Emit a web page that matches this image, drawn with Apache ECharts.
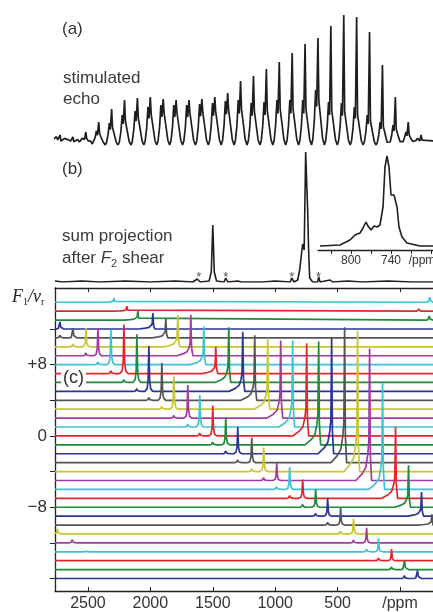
<!DOCTYPE html>
<html>
<head>
<meta charset="utf-8">
<script src="https://cdn.jsdelivr.net/npm/echarts@6.0.0/dist/echarts.min.js"></script>
<style>
html, body { margin: 0; padding: 0; background: #fff; }
#main { width: 433px; height: 612px; }
</style>
</head>
<body>
<div id="main"></div>
<script>
// (a) stimulated echo train: one entry per rotor echo (height above the valleys)
var echoMain  = [10, 8, 13, 23, 36, 45, 47, 48, 46, 45, 45, 46, 48, 52, 64, 69, 76, 83, 92, 101, 107, 119, 130, 128, 113, 80, 48, 23, 10];
var echoSide  = [5, 4, 8, 14, 22, 30, 34, 38, 40, 40, 40, 41, 42, 44, 45, 42, 43, 45, 45, 45, 55, 43, 42, 38, 30, 23, 20, 13, 6];
var echoFloor = [6, 5, 3, 1, 0, 0, 0, 0, 0, 0, 0, 0, 0, 0, 0, 0, 0, 0, 0, 0, 0, 0, 0, 0, 0, 0, 1, 2, 4, 4];

// (b) sum projection after F2 shear
var projPpm    = [2764, 2700, 2550, 2400, 2200, 2000, 1800, 1660, 1625, 1600, 1530, 1512, 1500, 1488, 1470, 1410, 1396, 1380, 1300, 1290, 1270, 1100, 1000, 880, 868, 850, 820, 804, 788, 780, 768, 756, 748, 740, 732, 724, 700, 660, 652, 640, 560, 540, 420, 300, 100, -100, -264];
var projHeight = [1, 0, 1, 0, 1, 0, 1, 0, 3, 0, 1, 10, 57, 10, 1, 0, 4, 0, 1, 2, 0, 0, 1, 0, 4, 0, 2, 12, 30, 38, 32, 130, 100, 72, 30, 4, 0, 0, 5, 0, 2, 0, 1, 0, 1, 0, 0];
var starPpm = [1612, 1396, 868, 652];

// (b) inset: expanded centreband
var insetPpm    = [846.5, 816.5, 801.5, 794, 786.5, 782, 777.5, 774.5, 770, 765.5, 761, 756.5, 752, 749, 746, 743, 740, 735.5, 731, 728, 723.5, 716, 696.5, 677];
var insetHeight = [0, 1, 6, 11, 13, 18, 24, 20, 16, 20, 19, 21, 39, 79, 90, 79, 51, 51, 39, 19, 9, 3, 0, 0];
var insetTicks  = [830, 800, 770, 740, 710, 680];

// (c) sheared 2D slices, one row per F1 / nu_r step
var rows = [15, 14, 13, 12, 11, 10, 9, 8, 7, 6, 5, 4, 3, 2, 1, 0, -1, -2, -3, -4, -5, -6, -7, -8, -9, -10, -11, -12, -13, -14, -15, -16];
var siteAPos = [null, null, null, 2724, 2620, 2516, 2420, 2316, 2212, 2108, 2012, 1908, 1812, 1700, 1604, 1500, 1396, 1300, 1188, 1092, 988, 884, 780, 676, 580, 476, 372, 268, 172, 68, -36, -140];
var siteAHeight = [0, 0, 0, 0.8, 1.1, 2.1, 3.1, 3.9, 5.5, 5.4, 5.1, 4.2, 3.7, 3.7, 3.6, 3.4, 3.0, 3.0, 2.8, 2.7, 2.0, 2.5, 2.1, 2.0, 2.0, 1.9, 1.7, 1.7, 1.5, 1.3, 1.0, 0.9];
var siteBPos = [2292, 2188, 2100, 1980, 1876, 1780, 1676, 1572, 1476, 1372, 1260, 1164, 1060, 956, 860, 748, 652, 548, 444, 340, 244, 140, 36, -68, -172, -255, null, null, null, null, null, null];
var siteBHeight = [0.45, 0.55, 1.1, 1.8, 2.2, 3.6, 4.6, 4.3, 3.0, 6.2, 6.7, 7.3, 8.0, 8.7, 9.7, 10.4, 11.6, 13.0, 15.2, 15.8, 14.8, 11.9, 8.0, 4.7, 2.7, 1.2, 0, 0, 0, 0, 0, 0];
var satelliteHeight = 0.3;
var extraRow    = [15, 14, 13, -11, -12, -13];
var extraPos    = [-240, -150, -235, 2745, 2625, 2520];
var extraHeight = [0.55, 0.25, 0.45, 0.6, 0.35, 0.15];
var ppmTicks = [2500, 2000, 1500, 1000, 500, 0];
var rowTicks = [-16, -12, -8, -4, 0, 4, 8, 12];
var rowLabels = [-8, 0, 8];

// line shapes
var peakOff = [32, 14, 6, 0, -6, -14, -32];
var peakLev = [0, 0.06, 0.25, 1, 0.25, 0.06, 0];
var bandOff = [110, 60, 30, 14, 6, 0, -6, -16];
var bandLev = [0, 0.05, 0.1, 0.2, 0.3, 1, 0.2, 0];
var rowColors = ['#3fc2d2', '#e3262b', '#1f8a3b', '#2b3596', '#555555', '#c9c533', '#a43ba3'];

var PPM_MIN = -264, PPM_MAX = 2764;
var FONT = "'Liberation Sans', Arial, sans-serif";
var SERIF = "'Liberation Serif', 'Times New Roman', serif";

function echoTrace() {
    var pts = [];
    for (var i = 0; i < echoMain.length; i++) {
        var f = echoFloor[i], s = echoSide[i], m = echoMain[i];
        pts.push([i - 0.5, f]);
        pts.push([i - 0.4, f + 0.1 * s]);
        pts.push([i - 0.28, f + 0.45 * s]);
        pts.push([i - 0.18, s]);
        pts.push([i - 0.1, 0.7 * s]);
        pts.push([i, m]);
        pts.push([i + 0.07, 0.8 * s]);
        pts.push([i + 0.2, 0.5 * s]);
        pts.push([i + 0.36, f + 0.12 * s]);
    }
    pts.push([echoMain.length - 0.5, echoFloor[echoMain.length]]);
    pts.push([echoMain.length, echoFloor[echoMain.length]]);
    return pts;
}

function zip(xs, ys) {
    return xs.map(function (x, i) { return [x, ys[i]]; });
}

function rowTrace(j) {
    var row = rows[j];
    var pts = [[PPM_MAX, row], [PPM_MIN, row]];
    function addPeak(pos, h, off, lev) {
        for (var n = 0; n < off.length; n++) pts.push([pos + off[n], row + h * lev[n]]);
    }
    if (siteAPos[j] != null) addPeak(siteAPos[j], siteAHeight[j], peakOff, peakLev);
    if (j > 0 && siteAPos[j - 1] != null) addPeak(siteAPos[j - 1], satelliteHeight, peakOff, peakLev);
    if (siteBPos[j] != null) addPeak(siteBPos[j], siteBHeight[j], bandOff, bandLev);
    for (var e = 0; e < extraRow.length; e++) {
        if (extraRow[e] === row) addPeak(extraPos[e], extraHeight[e], peakOff, peakLev);
    }
    pts.sort(function (a, b) { return b[0] - a[0]; });
    return pts;
}

var myChart = echarts.init(document.getElementById('main'));

var series = [
    {
        type: 'line', xAxisIndex: 0, yAxisIndex: 0, data: echoTrace(),
        showSymbol: false, lineStyle: { color: '#1e1e1e', width: 1.7 }
    },
    {
        type: 'line', xAxisIndex: 1, yAxisIndex: 1, data: zip(projPpm, projHeight),
        showSymbol: false, lineStyle: { color: '#1e1e1e', width: 1.6 }
    },
    {
        type: 'scatter', xAxisIndex: 1, yAxisIndex: 1,
        data: starPpm.map(function (p) { return [p, 5]; }),
        symbolSize: 1, itemStyle: { color: 'rgba(0,0,0,0)' },
        label: { show: true, position: 'inside', formatter: '*', fontSize: 13, color: '#222', fontFamily: FONT }
    },
    {
        type: 'line', xAxisIndex: 2, yAxisIndex: 2, data: zip(insetPpm, insetHeight),
        showSymbol: false, lineStyle: { color: '#1e1e1e', width: 1.6 }
    }
];
rows.forEach(function (r, j) {
    series.push({
        type: 'line', xAxisIndex: 3, yAxisIndex: 3, data: rowTrace(j),
        showSymbol: false, clip: true,
        lineStyle: { color: rowColors[j % rowColors.length], width: 1.7 }
    });
});

var axisBlack = { onZero: false, lineStyle: { color: '#222', width: 1.3 } };

var option = {
    animation: false,
    grid: [
        { left: 55, right: 0, top: 15, height: 130, outerBoundsMode: 'none' },
        { left: 55, right: 0, top: 152, height: 130, outerBoundsMode: 'none' },
        { left: 318, right: 0, top: 156, height: 94, outerBoundsMode: 'none' },
        { left: 55, right: 0, top: 288, bottom: 21, outerBoundsMode: 'none' }
    ],
    xAxis: [
        { gridIndex: 0, type: 'value', min: -0.39, max: 28.92, show: false },
        { gridIndex: 1, type: 'value', min: PPM_MIN, max: PPM_MAX, inverse: true, show: false },
        {
            gridIndex: 2, type: 'value', min: 677, max: 849.5, inverse: true,
            axisLine: axisBlack, splitLine: { show: false },
            axisTick: { customValues: insetTicks, length: 4, lineStyle: { color: '#222' } },
            axisLabel: {
                customValues: [800, 740, 710], margin: 5, color: '#333', fontSize: 12, fontFamily: FONT,
                formatter: function (v) { return v === 710 ? '{u|/ppm}' : String(v); },
                rich: { u: { fontSize: 12, color: '#333', fontFamily: FONT, padding: [0, 0, 0, 22] } }
            }
        },
        {
            gridIndex: 3, type: 'value', min: PPM_MIN, max: PPM_MAX, inverse: true,
            axisLine: axisBlack, splitLine: { show: false },
            axisTick: { customValues: ppmTicks, inside: true, length: 4, lineStyle: { color: '#222' } },
            axisLabel: {
                customValues: ppmTicks, margin: 5, color: '#333', fontSize: 16, fontFamily: FONT,
                formatter: function (v) { return v === 0 ? '/ppm' : String(v); }
            }
        },
        {
            gridIndex: 3, type: 'value', position: 'top', min: PPM_MIN, max: PPM_MAX, inverse: true,
            axisLine: axisBlack, splitLine: { show: false },
            axisTick: { customValues: ppmTicks, inside: true, length: 4, lineStyle: { color: '#222' } },
            axisLabel: { show: false }
        }
    ],
    yAxis: [
        { gridIndex: 0, type: 'value', min: 0, max: 130, show: false },
        { gridIndex: 1, type: 'value', min: 0, max: 130, show: false },
        { gridIndex: 2, type: 'value', min: -4, max: 90, show: false },
        {
            gridIndex: 3, type: 'value', min: -17.4, max: 16.6,
            axisLine: { show: true, onZero: false, lineStyle: { color: '#222', width: 1.3 } },
            splitLine: { show: false },
            axisTick: { show: true, customValues: rowTicks, length: 5, lineStyle: { color: '#222' } },
            axisLabel: {
                customValues: rowLabels, margin: 8, color: '#333', fontSize: 17, fontFamily: FONT,
                formatter: function (v) { return v > 0 ? '+' + v : (v < 0 ? '\u2212' + (-v) : '0'); }
            }
        }
    ],
    graphic: [
        { type: 'text', left: 62, top: 21, z: 100, style: { text: '(a)', fontSize: 17, fontFamily: FONT, fill: '#333' } },
        { type: 'text', left: 63, top: 68, z: 100, style: { text: 'stimulated\necho', fontSize: 17, lineHeight: 21, fontFamily: FONT, fill: '#3a3a3a' } },
        { type: 'text', left: 62, top: 161, z: 100, style: { text: '(b)', fontSize: 17, fontFamily: FONT, fill: '#333' } },
        {
            type: 'text', left: 62, top: 228, z: 100,
            style: {
                text: '{t|sum projection}\n{t|after }{i|F}{s|2}{t| shear}',
                fill: '#3a3a3a',
                rich: {
                    t: { fontSize: 17, fontFamily: FONT, fill: '#3a3a3a', lineHeight: 22 },
                    i: { fontSize: 17, fontFamily: FONT, fontStyle: 'italic', fill: '#3a3a3a', lineHeight: 22 },
                    s: { fontSize: 11, fontFamily: FONT, fill: '#3a3a3a', lineHeight: 22, padding: [10, 0, 0, 0] }
                }
            }
        },
        {
            type: 'text', left: 61, top: 367, z: 100,
            style: { text: '(c)', fontSize: 18, fontFamily: FONT, fill: '#333', backgroundColor: '#fff', padding: [2, 2, 2, 2] }
        },
        {
            type: 'text', left: 12, top: 287, z: 100,
            style: {
                text: '{i|F}{s|1}{n|/}{i|\u03bd}{s|r}',
                rich: {
                    i: { fontSize: 18, fontFamily: SERIF, fontStyle: 'italic', fill: '#222', lineHeight: 20 },
                    n: { fontSize: 18, fontFamily: SERIF, fontStyle: 'italic', fill: '#222', lineHeight: 20 },
                    s: { fontSize: 10, fontFamily: SERIF, fill: '#222', lineHeight: 20, padding: [10, 0, 0, 0] }
                }
            }
        }
    ],
    series: series
};
myChart.setOption(option);
</script>
</body>
</html>
